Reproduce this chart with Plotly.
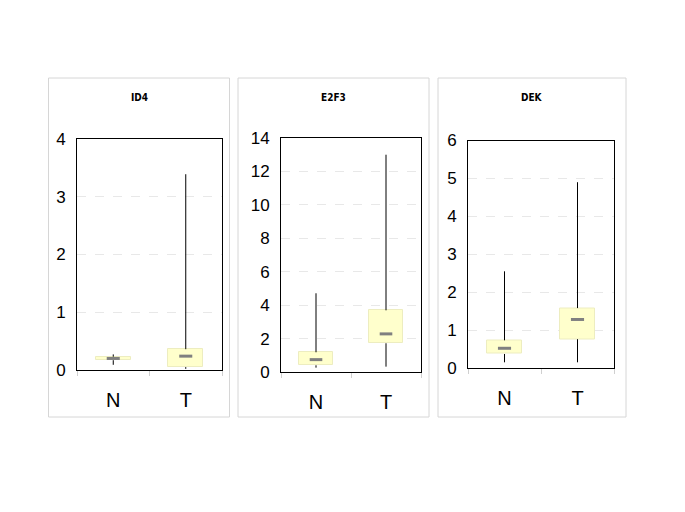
import plotly.graph_objects as go

categories = ["N", "T"]
genes = ["ID4", "E2F3", "DEK"]

# box statistics per gene: [N, T]
low = {"ID4": [0.09, 0.02], "E2F3": [0.26, 0.32], "DEK": [0.15, 0.15]}
q1 = {"ID4": [0.17, 0.05], "E2F3": [0.40, 1.72], "DEK": [0.37, 0.76]}
median = {"ID4": [0.20, 0.24], "E2F3": [0.74, 2.28], "DEK": [0.52, 1.28]}
q3 = {"ID4": [0.23, 0.36], "E2F3": [1.18, 3.69], "DEK": [0.73, 1.58]}
high = {"ID4": [0.27, 3.39], "E2F3": [4.71, 13.0], "DEK": [2.55, 4.90]}

y_max = {"ID4": 4, "E2F3": 14, "DEK": 6}
y_dtick = {"ID4": 1, "E2F3": 2, "DEK": 1}

W, H = 685, 512
OFF = 8  # page body margin
# plot areas in page pixels: (left, right, top, bottom)
plot_px = [(77, 222, 139, 370), (281, 421, 138, 372), (468, 614, 140.5, 368)]
panel_px = [(48.5, 229.5, 78, 417), (238, 429, 78, 417), (438, 626, 78, 417)]
title_y = 97

fig = go.Figure()
xs = list(range(len(categories)))
box_w = 0.48
med_half = 0.09

for k, g in enumerate(genes):
    xa = "x" if k == 0 else f"x{k+1}"
    ya = "y" if k == 0 else f"y{k+1}"
    wx, wy = [], []
    for i in xs:
        wx += [i, i, None, i, i, None]
        wy += [low[g][i], q1[g][i], None, q3[g][i], high[g][i], None]
    fig.add_trace(go.Scatter(x=wx, y=wy, mode="lines", line=dict(color="black", width=1),
                             xaxis=xa, yaxis=ya, showlegend=False, hoverinfo="skip"))
    fig.add_trace(go.Bar(x=xs, y=[q3[g][i] - q1[g][i] for i in xs], base=q1[g], width=box_w,
                         marker=dict(color="#FFFFCC", line=dict(color="#EDEDC0", width=1)),
                         xaxis=xa, yaxis=ya, showlegend=False))
    mx, my = [], []
    for i in xs:
        mx += [i - med_half, i + med_half, None]
        my += [median[g][i], median[g][i], None]
    fig.add_trace(go.Scatter(x=mx, y=my, mode="lines", line=dict(color="#808080", width=3),
                             xaxis=xa, yaxis=ya, showlegend=False, hoverinfo="skip"))

layout = dict(
    width=W, height=H, margin=dict(l=0, r=0, t=0, b=0, autoexpand=False),
    paper_bgcolor="white", plot_bgcolor="white",
    font=dict(family="Liberation Sans, Arial, sans-serif", color="black"),
    shapes=[], annotations=[],
)

def px_x(p):
    return (p - OFF) / W

def px_y(p):
    return 1 - (p - OFF) / H

for k, g in enumerate(genes):
    l, r, t, b = plot_px[k]
    sx = "xaxis" if k == 0 else f"xaxis{k+1}"
    sy = "yaxis" if k == 0 else f"yaxis{k+1}"
    yref = "y" if k == 0 else f"y{k+1}"
    xref = "x" if k == 0 else f"x{k+1}"
    layout[sx] = dict(domain=[px_x(l), px_x(r)], anchor=yref, range=[-0.5, 1.5],
                      tickvals=xs, ticktext=categories, ticks="", showgrid=False,
                      showline=True, mirror=True, linecolor="black", linewidth=1,
                      tickfont=dict(size=20, family="Liberation Sans Narrow, Arial Narrow, Liberation Sans, Arial"),
                      ticklabelstandoff=12, automargin=False,
                      minor=dict(tickvals=[-0.5, 0.5, 1.5], ticks="outside", ticklen=5,
                                 tickcolor="#d0d0d0", showgrid=False),
                      zeroline=False, fixedrange=True)
    layout[sy] = dict(domain=[px_y(b), px_y(t)], anchor=xref, range=[0, y_max[g]],
                      dtick=y_dtick[g], showgrid=True, gridcolor="#e8e8e8", griddash="dash",
                      gridwidth=1, showline=True, mirror=True, linecolor="black", linewidth=1,
                      ticks="", tickfont=dict(size=17), ticklabelstandoff=7, automargin=False,
                      zeroline=False, fixedrange=True)
    pl, pr, pt, pb = panel_px[k]
    layout["shapes"].append(dict(type="rect", xref="paper", yref="paper",
                                 x0=px_x(pl), x1=px_x(pr), y0=px_y(pb), y1=px_y(pt),
                                 line=dict(color="#d6d6d6", width=1), layer="below"))
    layout["annotations"].append(dict(text=g, xref="paper", yref="paper",
                                      x=px_x((pl + pr) / 2), y=px_y(title_y), showarrow=False,
                                      xanchor="center", yanchor="middle",
                                      font=dict(size=10, family="DejaVu Sans Condensed, Liberation Sans",
                                                color="black", weight="bold")))

fig.update_layout(**layout)
fig.update_layout(bargap=0)
fig.write_html("out.html")
